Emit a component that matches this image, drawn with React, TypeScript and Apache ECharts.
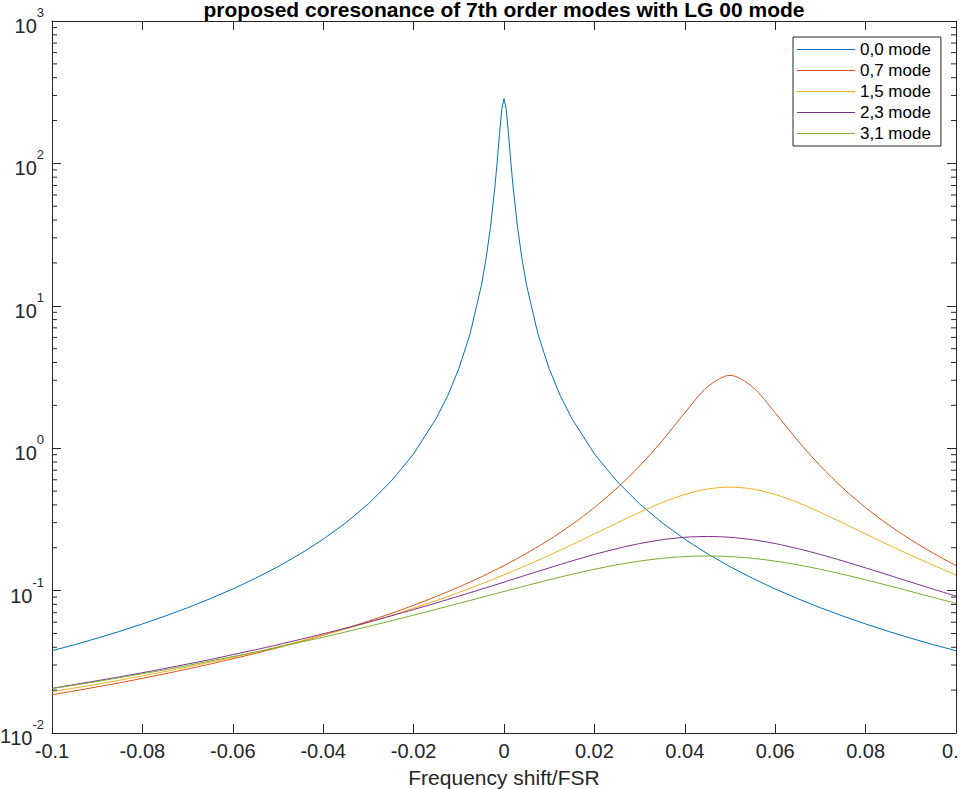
import React, { useEffect, useRef } from "react";
import * as echarts from "echarts";

// Frequency shift / FSR grid for the higher-order modes
const freq = [-0.1, -0.095, -0.09, -0.085, -0.08, -0.075, -0.07, -0.065, -0.06, -0.055, -0.05, -0.045, -0.04, -0.035, -0.03, -0.025, -0.02, -0.015, -0.01, -0.005, 0, 0.005, 0.01, 0.015, 0.02, 0.025, 0.03, 0.035, 0.04, 0.045, 0.05, 0.055, 0.06, 0.065, 0.07, 0.075, 0.08, 0.085, 0.09, 0.095, 0.1];

// Denser grid for the sharp LG 00 resonance
const freqMode00 = [-0.1, -0.095, -0.09, -0.085, -0.08, -0.075, -0.07, -0.065, -0.06, -0.055, -0.05, -0.045, -0.04, -0.035, -0.03, -0.025, -0.02, -0.015, -0.0125, -0.01, -0.0075, -0.005, -0.004, -0.003, -0.002, -0.0015, -0.001, -0.0005, 0, 0.0005, 0.001, 0.0015, 0.002, 0.003, 0.004, 0.005, 0.0075, 0.01, 0.0125, 0.015, 0.02, 0.025, 0.03, 0.035, 0.04, 0.045, 0.05, 0.055, 0.06, 0.065, 0.07, 0.075, 0.08, 0.085, 0.09, 0.095, 0.1];

const mode00 = [0.0378, 0.0417, 0.0463, 0.0518, 0.0583, 0.0662, 0.0758, 0.0877, 0.1027, 0.122, 0.1473, 0.1816, 0.2295, 0.2993, 0.4067, 0.585, 0.912, 1.617, 2.321, 3.61, 6.354, 13.91, 21.15, 35.55, 69.2, 103.5, 160.1, 238.5, 285, 238.5, 160.1, 103.5, 69.2, 35.55, 21.15, 13.91, 6.354, 3.61, 2.321, 1.617, 0.912, 0.585, 0.4067, 0.2993, 0.2295, 0.1816, 0.1473, 0.122, 0.1027, 0.0877, 0.0758, 0.0662, 0.0583, 0.0518, 0.0463, 0.0417, 0.0378];

const mode07 = [0.01855, 0.01975, 0.02108, 0.02255, 0.0242, 0.02605, 0.02814, 0.03049, 0.03318, 0.03625, 0.03978, 0.04388, 0.04867, 0.05431, 0.06102, 0.06907, 0.07886, 0.09091, 0.106, 0.1251, 0.1499, 0.1828, 0.2277, 0.2907, 0.3831, 0.524, 0.7502, 1.13, 1.772, 2.689, 3.25, 2.689, 1.772, 1.13, 0.7502, 0.524, 0.3831, 0.2907, 0.2277, 0.1828, 0.1499];

const mode15 = [0.0195, 0.0207, 0.022, 0.0235, 0.0252, 0.027, 0.0291, 0.0314, 0.034, 0.0369, 0.0403, 0.0442, 0.0486, 0.0538, 0.0598, 0.0668, 0.0752, 0.0851, 0.097, 0.1114, 0.129, 0.1505, 0.177, 0.2098, 0.2498, 0.2981, 0.3542, 0.4151, 0.4732, 0.5167, 0.533, 0.5167, 0.4732, 0.4151, 0.3542, 0.2981, 0.2498, 0.2098, 0.177, 0.1505, 0.129];

const mode23 = [0.0206, 0.0219, 0.0233, 0.0248, 0.0265, 0.0284, 0.0305, 0.0328, 0.0355, 0.0384, 0.0417, 0.0455, 0.0497, 0.0545, 0.06, 0.0664, 0.0736, 0.0819, 0.0914, 0.1023, 0.1147, 0.1288, 0.1444, 0.1614, 0.1793, 0.1972, 0.2139, 0.2276, 0.2368, 0.24, 0.2368, 0.2276, 0.2139, 0.1972, 0.1793, 0.1614, 0.1444, 0.1288, 0.1147, 0.1023, 0.0914];

const mode31 = [0.0205, 0.0217, 0.023, 0.0245, 0.0261, 0.0278, 0.0298, 0.032, 0.0344, 0.037, 0.04, 0.0434, 0.0471, 0.0513, 0.056, 0.0613, 0.0672, 0.0739, 0.0813, 0.0895, 0.0986, 0.1085, 0.1191, 0.1301, 0.1411, 0.1517, 0.1611, 0.1685, 0.1733, 0.175, 0.1733, 0.1685, 0.1611, 0.1517, 0.1411, 0.1301, 0.1191, 0.1085, 0.0986, 0.0895, 0.0813];

const seriesNames = ["0,0 mode", "0,7 mode", "1,5 mode", "2,3 mode", "3,1 mode"];
const seriesColors = ["#0072BD", "#D95319", "#EDB120", "#7E2F8E", "#77AC30"];

const titleText = "proposed coresonance of 7th order modes with LG 00 mode";
const xLabel = "Frequency shift/FSR";

const X_MIN = -0.1;
const X_MAX = 0.1;
const Y_MIN = 0.01;
const Y_MAX = 1000;

const FONT = "'Liberation Sans', Arial, Helvetica, sans-serif";
const INK = "#262626";

export default function App() {
  const ref = useRef<HTMLDivElement | null>(null);

  useEffect(() => {
    if (!ref.current) return;
    const chart = echarts.init(ref.current, undefined, { renderer: "svg", width: 960, height: 789 });

    // minor tick values for the log axis (2..9 within each decade)
    const minorTicks: number[][] = [];
    for (let e = -2; e < 3; e++) {
      for (let m = 2; m <= 9; m++) {
        minorTicks.push([X_MIN, m * Math.pow(10, e)]);
      }
    }

    const pair = (xs: number[], ys: number[]) => xs.map((x, i) => [x, ys[i]]);
    const datasets = [
      pair(freqMode00, mode00),
      pair(freq, mode07),
      pair(freq, mode15),
      pair(freq, mode23),
      pair(freq, mode31),
    ];

    const lineSeries = datasets.map((d, i) => ({
      name: seriesNames[i],
      type: "line",
      data: d,
      xAxisIndex: 0,
      yAxisIndex: 0,
      showSymbol: false,
      symbol: "none",
      smooth: i === 0 ? false : 0.3,
      lineStyle: { color: seriesColors[i], width: 1 },
      itemStyle: { color: seriesColors[i] },
      emphasis: { disabled: true },
      z: 3,
    }));

    const tickStyle = { color: INK, width: 1 };

    chart.setOption({
      animation: false,
      backgroundColor: "#ffffff",
      title: {
        text: titleText,
        left: 504,
        top: -1,
        padding: 0,
        textAlign: "center",
        textStyle: { fontFamily: FONT, fontSize: 21, fontWeight: "bold", color: "#000" },
      },
      legend: {
        orient: "vertical",
        left: 793,
        top: 37,
        padding: [2, 10, 2, 4],
        itemWidth: 58,
        itemHeight: 1.2,
        itemGap: 0,
        icon: "rect",
        data: seriesNames,
        borderColor: INK,
        borderWidth: 1,
        backgroundColor: "#ffffff",
        textStyle: { fontFamily: FONT, fontSize: 17, lineHeight: 21, color: "#000" },
      },
      grid: { left: 52, right: 4, top: 21, bottom: 56, containLabel: false, outerBoundsMode: "none" },
      xAxis: [
        {
          type: "value",
          min: X_MIN,
          max: X_MAX,
          interval: 0.02,
          position: "bottom",
          name: xLabel,
          nameLocation: "middle",
          nameGap: 34,
          nameTextStyle: { fontFamily: FONT, fontSize: 21, color: INK },
          axisLine: { show: true, onZero: false, lineStyle: tickStyle },
          axisTick: { show: true, inside: true, length: 9, lineStyle: tickStyle },
          axisLabel: {
            show: true,
            margin: 8,
            fontFamily: FONT,
            fontSize: 20,
            color: INK,
            showMaxLabel: true,
            showMinLabel: true,
            formatter: (v: number) => String(parseFloat(v.toFixed(2))),
          },
          splitLine: { show: false },
        },
        {
          type: "value",
          min: X_MIN,
          max: X_MAX,
          interval: 0.02,
          position: "top",
          axisLine: { show: true, onZero: false, lineStyle: tickStyle },
          axisTick: { show: true, inside: true, length: 9, lineStyle: tickStyle },
          axisLabel: { show: false },
          splitLine: { show: false },
        },
      ],
      yAxis: [
        {
          type: "log",
          logBase: 10,
          min: Y_MIN,
          max: Y_MAX,
          splitNumber: 5,
          position: "left",
          axisLine: { show: true, onZero: false, lineStyle: tickStyle },
          axisTick: { show: true, inside: true, length: 9, lineStyle: tickStyle },
          axisLabel: {
            show: true,
            margin: 8,
            formatter: (v: number) => `{b|10}{e|${Math.round(Math.log10(v))}}`,
            rich: {
              b: { fontFamily: FONT, fontSize: 20, color: INK, lineHeight: 30, verticalAlign: "bottom" },
              e: { fontFamily: FONT, fontSize: 13, color: INK, lineHeight: 30, verticalAlign: "top" },
            },
          },
          splitLine: { show: false },
        },
        {
          type: "log",
          logBase: 10,
          min: Y_MIN,
          max: Y_MAX,
          splitNumber: 5,
          position: "right",
          axisLine: { show: true, onZero: false, lineStyle: tickStyle },
          axisTick: { show: true, inside: true, length: 9, lineStyle: tickStyle },
          axisLabel: { show: false },
          splitLine: { show: false },
        },
      ],
      graphic: [
        {
          type: "text",
          left: 0,
          top: 726,
          style: { text: "1", fontFamily: FONT, fontSize: 20, fill: INK },
        },
      ],
      series: [
        ...lineSeries,
        {
          type: "custom",
          name: "minor ticks",
          xAxisIndex: 0,
          yAxisIndex: 0,
          silent: true,
          clip: false,
          data: minorTicks,
          z: 4,
          renderItem: (_params: any, api: any) => {
            const v = api.value(1);
            const pL = api.coord([X_MIN, v]);
            const pR = api.coord([X_MAX, v]);
            return {
              type: "group",
              children: [
                {
                  type: "line",
                  shape: { x1: pL[0], y1: pL[1], x2: pL[0] + 5, y2: pL[1] },
                  style: { stroke: INK, lineWidth: 1 },
                },
                {
                  type: "line",
                  shape: { x1: pR[0] - 5, y1: pR[1], x2: pR[0], y2: pR[1] },
                  style: { stroke: INK, lineWidth: 1 },
                },
              ],
            };
          },
        },
      ],
    });

    return () => {
      chart.dispose();
    };
  }, []);

  return (
    <div
      ref={ref}
      style={{ position: "fixed", left: 0, top: 0, width: 960, height: 789, background: "#fff" }}
    />
  );
}
